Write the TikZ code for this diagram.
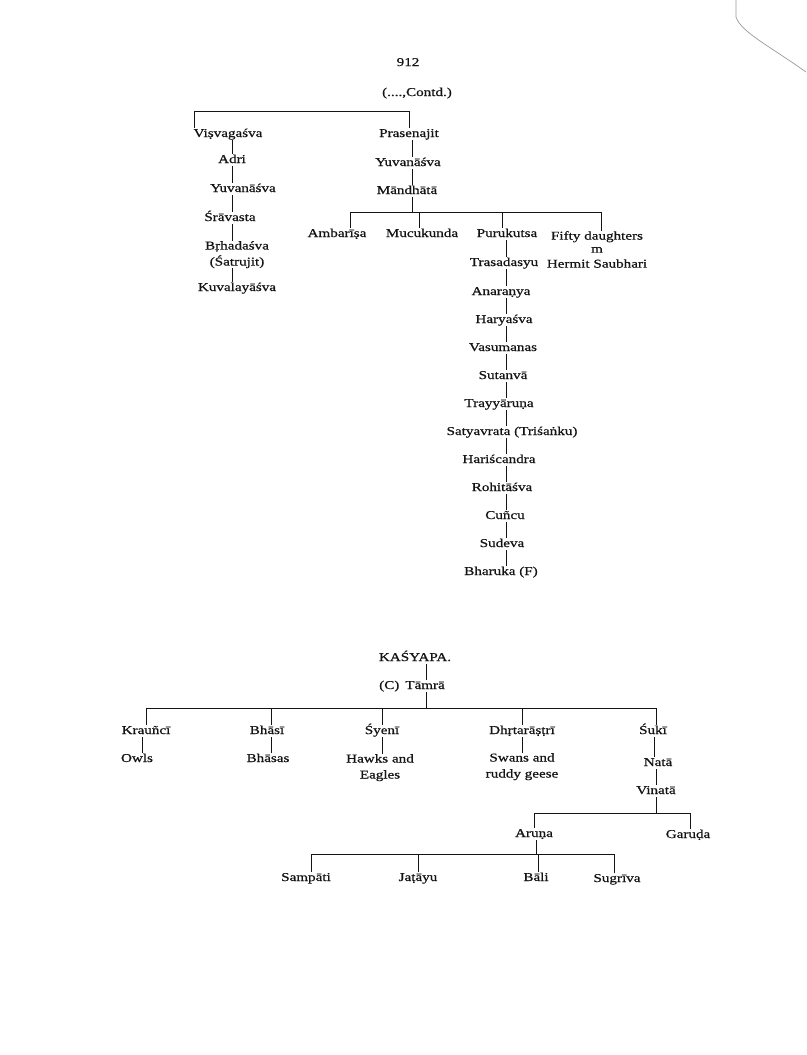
\documentclass[tikz,border=0pt]{standalone}
\usepackage{fontspec}
\setmainfont{Liberation Serif}[FakeStretch=1.26,FakeBold=0.7]
\usetikzlibrary{calc}
\definecolor{ink}{HTML}{141414}
\definecolor{scanline}{HTML}{9A9A9A}
\newcommand{\kinfont}{\fontsize{12}{16}\selectfont}
\tikzset{
  kin/.style={draw=ink,line width=.9pt},
  person/.style={inner sep=0pt,font=\kinfont,text=ink,
    text height=9pt,text depth=3pt,anchor=base},
  people/.style={inner sep=0pt,font=\kinfont,text=ink,
    align=center,anchor=north},
}

\begin{document}
\begin{tikzpicture}[x=1pt,y=-1pt]
\fill[white] (0,0) rectangle (806,1055);
\useasboundingbox (0,0) rectangle (806,1055);

% page head
\node[person] (pg) at (408,66) {912};
\node[person] (contd) at (417,96) {(....,Contd.)};

% upper tree: Visvagasva / Prasenajit
\coordinate (barA) at (0,111);
\coordinate (colV) at (232,0);
\coordinate (colM) at (412,0);
\coordinate (colP) at (506,0);
\node[person] (visv) at (228,137) {Viṣvagaśva};
\node[person] (pras) at (409,137) {Prasenajit};
\draw[kin] ([xshift=-34pt]visv.north) |- (barA -| pras.north) -- (pras.north);

\node[person] (adri) at (232,163) {Adri};
\node[person] (yuvl) at (243,192) {Yuvanāśva};
\node[person] (srav) at (230,221) {Śrāvasta};
\node[people] (brh) at (237,241) {Bṛhadaśva\\(Śatrujit)};
\node[person] (kuval) at (237,291) {Kuvalayāśva};
\draw[kin] (colV |- adri.north) -- (colV |- visv.south);
\draw[kin] (colV |- yuvl.north) -- (colV |- adri.south);
\draw[kin] (colV |- srav.north) -- (colV |- yuvl.south);
\draw[kin] (colV |- brh.north) -- (colV |- srav.south);
\draw[kin] (colV |- kuval.north) -- (colV |- brh.south);

\node[person] (yuvr) at (408,166) {Yuvanāśva};
\node[person] (mandh) at (407,194) {Māndhātā};
\draw[kin] (colM |- yuvr.north) -- (colM |- pras.south);
\draw[kin] (colM |- mandh.north) -- (colM |- yuvr.south);

\coordinate (barB) at (0,212);
\draw[kin] (colM |- mandh.south) -- (colM |- barB);
\node[person] (amb) at (337,237) {Ambarīṣa};
\node[person] (muc) at (422,237) {Mucukunda};
\node[person] (puru) at (507,237) {Purukutsa};
\node[people] (fifty) at (597,231) {Fifty daughters\\[-3pt]m\hspace*{28pt}\\[-1pt]Hermit Saubhari};
\draw[kin] ([xshift=13pt]amb.north) |- ([xshift=4pt]fifty.north |- barB)
  -- ([xshift=4pt]fifty.north);
\draw[kin] ([xshift=-3pt]muc.north) -- ([xshift=-3pt]muc.north |- barB);
\draw[kin] ([xshift=-5pt]puru.north) -- ([xshift=-5pt]puru.north |- barB);

% line of Purukutsa
\node[person] (tras) at (504,266) {Trasadasyu};
\node[person] (anar) at (501,295) {Anaraṇya};
\node[person] (hary) at (504,323) {Haryaśva};
\node[person] (vasu) at (503,351) {Vasumanas};
\node[person] (sutan) at (503,379) {Sutanvā};
\node[person] (tray) at (499,407) {Trayyāruṇa};
\node[person] (satya) at (512,435) {Satyavrata (Triśaṅku)};
\node[person] (hari) at (499,463) {Hariścandra};
\node[person] (rohi) at (502,491) {Rohitāśva};
\node[person] (cunc) at (505,519) {Cuñcu};
\node[person] (sude) at (502,547) {Sudeva};
\node[person] (bhar) at (501,575) {Bharuka (F)};
\draw[kin] (colP |- tras.north) -- (colP |- puru.south);
\draw[kin] (colP |- anar.north) -- (colP |- tras.south);
\draw[kin] (colP |- hary.north) -- (colP |- anar.south);
\draw[kin] (colP |- vasu.north) -- (colP |- hary.south);
\draw[kin] (colP |- sutan.north) -- (colP |- vasu.south);
\draw[kin] (colP |- tray.north) -- (colP |- sutan.south);
\draw[kin] (colP |- satya.north) -- (colP |- tray.south);
\draw[kin] (colP |- hari.north) -- (colP |- satya.south);
\draw[kin] (colP |- rohi.north) -- (colP |- hari.south);
\draw[kin] (colP |- cunc.north) -- (colP |- rohi.south);
\draw[kin] (colP |- sude.north) -- (colP |- cunc.south);
\draw[kin] (colP |- bhar.north) -- (colP |- sude.south);

% lower tree: Kasyapa and Tamra
\coordinate (colK) at (426,0);
\node[person] (kas) at (415,661) {KAŚYAPA.};
\node[person] (tamra) at (412,689) {(C)\enspace Tāmrā};
\draw[kin] (colK |- tamra.north) -- (colK |- kas.south);

\coordinate (barC) at (0,708);
\draw[kin] (colK |- tamra.south) -- (colK |- barC);
\node[person] (krau) at (146,734) {Krauñcī};
\node[person] (bhasi) at (267,734) {Bhāsī};
\node[person] (syeni) at (382,734) {Śyenī};
\node[person] (dhrt) at (522,734) {Dhṛtarāṣṭrī};
\node[person] (suki) at (653,734) {Śukī};
\draw[kin] (krau.north) |- ([xshift=3pt]suki.north |- barC) -- ([xshift=3pt]suki.north);
\draw[kin] ([xshift=4pt]bhasi.north) -- ([xshift=4pt]bhasi.north |- barC);
\draw[kin] (syeni.north) -- (syeni.north |- barC);
\draw[kin] (dhrt.north) -- (dhrt.north |- barC);

\node[person] (owls) at (137,762) {Owls};
\node[person] (bhasas) at (268,762) {Bhāsas};
\node[people] (hawks) at (380,754) {Hawks and\\Eagles};
\node[people] (swans) at (522,753) {Swans and\\ruddy geese};
\node[person] (nata) at (658,766) {Natā};
\node[person] (vinata) at (656,794) {Vinatā};
\draw[kin] ([xshift=5pt]owls.north) -- ([xshift=5pt]owls.north |- krau.south);
\draw[kin] ([xshift=3pt]bhasas.north) -- ([xshift=3pt]bhasas.north |- bhasi.south);
\draw[kin] (syeni.south) -- (syeni.south |- hawks.north);
\draw[kin] (dhrt.south) -- (dhrt.south |- swans.north);
\draw[kin] ([xshift=-4pt]nata.north) -- ([xshift=-4pt]nata.north |- suki.south);
\draw[kin] (vinata.north) -- (vinata.north |- nata.south);

\coordinate (barD) at (0,813);
\draw[kin] (vinata.south) -- (vinata.south |- barD);
\node[person] (aruna) at (534,837) {Aruṇa};
\node[person] (garuda) at (688,838) {Garuḍa};
\draw[kin] (aruna.north) |- ([xshift=2pt]garuda.north |- barD) -- ([xshift=2pt]garuda.north);

\coordinate (barE) at (0,854);
\draw[kin] ([xshift=2pt]aruna.south) -- ([xshift=2pt]aruna.south |- barE);
\node[person] (samp) at (306,881) {Sampāti};
\node[person] (jat) at (418,881) {Jaṭāyu};
\node[person] (bali) at (536,881) {Bāli};
\node[person] (sug) at (617,882) {Sugrīva};
\draw[kin] ([xshift=5pt]samp.north) |- ([xshift=-3pt]sug.north |- barE) -- ([xshift=-3pt]sug.north);
\draw[kin] (jat.north) -- (jat.north |- barE);
\draw[kin] ([xshift=2pt]bali.north) -- ([xshift=2pt]bali.north |- barE);

% page edge of the scan
\draw[scanline,line width=.7pt] (736,0) -- (736,17)
  .. controls (741,32) and (768,45) .. (806,72);
\end{tikzpicture}
\end{document}
